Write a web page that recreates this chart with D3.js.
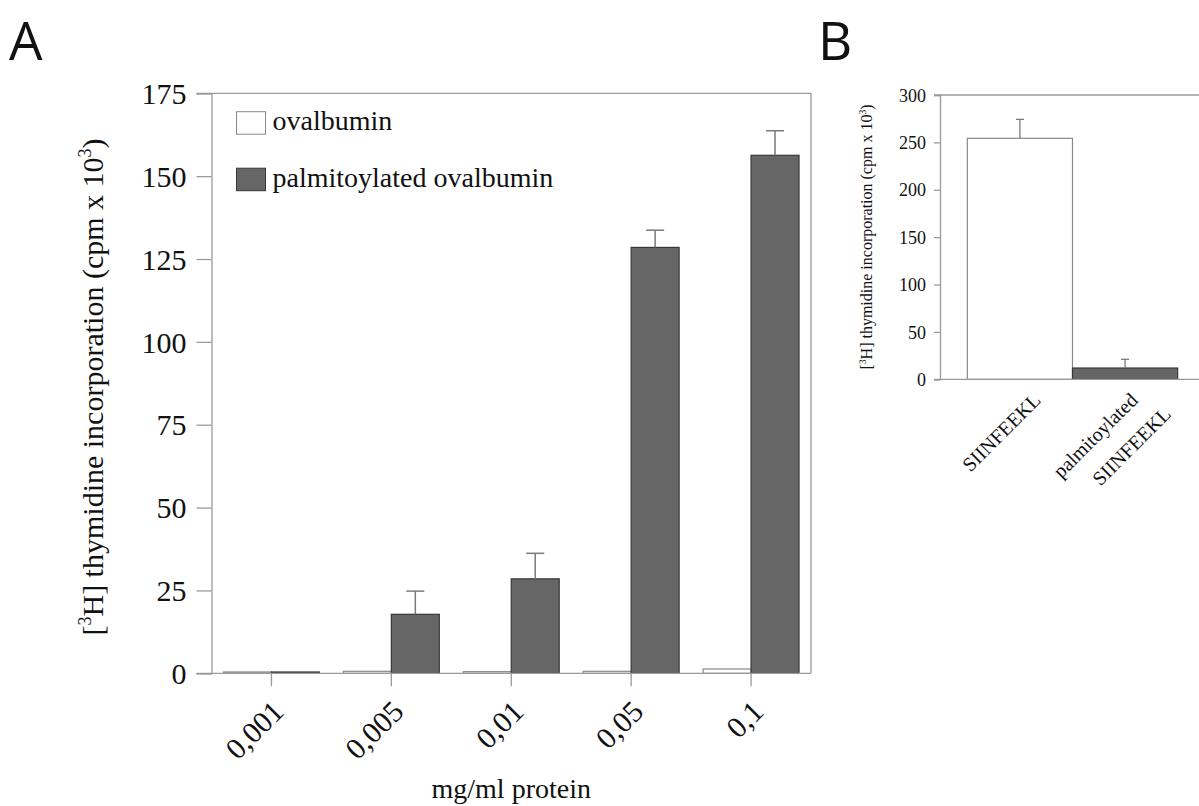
<!DOCTYPE html>
<html>
<head>
<meta charset="utf-8">
<script src="https://cdn.jsdelivr.net/npm/d3@7"></script>
<style>
  html, body { margin: 0; padding: 0; background: #fff; }
  svg { display: block; }
  text { font-family: "Liberation Serif", "Times New Roman", serif; fill: #111; }
</style>
</head>
<body>
<svg id="chart" width="1199" height="806"></svg>
<script>
// ---------- Panel A data ----------
const concentrations = ["0,001", "0,005", "0,01", "0,05", "0,1"];
const seriesNames = ["ovalbumin", "palmitoylated ovalbumin"];
const ovalbumin = [0.4, 0.6, 0.5, 0.6, 1.3];
const ovalbuminErr = [0, 0, 0, 0, 0];
const palmOvalbumin = [0.4, 17.8, 28.5, 128.5, 156.3];
const palmOvalbuminErr = [0, 7.0, 7.7, 5.2, 7.4];
const yTicksA = [0, 25, 50, 75, 100, 125, 150, 175];

// ---------- Panel B data ----------
const peptides = ["SIINFEEKL", "palmitoylated SIINFEEKL"];
const peptideLabelLines = [["SIINFEEKL"], ["palmitoylated", "SIINFEEKL"]];
const peptideValues = [254.3, 11.9];
const peptideErr = [20.0, 9.2];
const yTicksB = [0, 50, 100, 150, 200, 250, 300];

const colors = { white: "#ffffff", gray: "#666666" };
const strokeCol = { white: "#8a8a8a", gray: "#383838" };
const axisCol = "#9a9a9a";
const errCol = "#7a7a7a";

const svg = d3.select("#chart");

// helper: y-title with superscripts
function addYTitle(g, x, y, size) {
  const t = g.append("text")
    .attr("transform", `translate(${x},${y}) rotate(-90)`)
    .attr("text-anchor", "middle")
    .style("font-size", size + "px");
  t.append("tspan").text("[");
  t.append("tspan").text("3").attr("dy", -0.4 * size).style("font-size", (size * 0.6) + "px");
  t.append("tspan").text("H] thymidine incorporation (cpm x 10").attr("dy", 0.4 * size);
  t.append("tspan").text("3").attr("dy", -0.4 * size).style("font-size", (size * 0.6) + "px");
  t.append("tspan").text(")").attr("dy", 0.4 * size);
}

// ================= PANEL A =================
const A = { left: 211.5, right: 811, top: 93.3, bottom: 673.3 };
const xA = d3.scaleBand().domain(concentrations).range([A.left, A.right]).padding(0);
const subA = d3.scaleBand().domain(seriesNames).range([0, xA.bandwidth()])
  .paddingInner(0).paddingOuter(0.25);
const yA = d3.scaleLinear().domain([0, 175]).range([A.bottom, A.top]);

const gA = svg.append("g");

// frame: top and right lines
gA.append("line").attr("x1", A.left - 15).attr("x2", A.right).attr("y1", yA(175)).attr("y2", yA(175))
  .attr("stroke", axisCol).attr("stroke-width", 1.3);
gA.append("line").attr("x1", A.right).attr("x2", A.right).attr("y1", yA(175)).attr("y2", yA(0))
  .attr("stroke", axisCol).attr("stroke-width", 1.3);

// y axis
const yAxisA = d3.axisLeft(yA).tickValues(yTicksA).tickSize(15).tickPadding(10).tickFormat(d3.format("d"));
const gyA = gA.append("g").attr("transform", `translate(${A.left},0)`).call(yAxisA);
gyA.select(".domain").attr("stroke", axisCol).attr("stroke-width", 1.3);
gyA.selectAll(".tick line").attr("stroke", axisCol).attr("stroke-width", 1.3);
gyA.selectAll(".tick text").style("font-size", "30px").style("font-family", "Liberation Serif").attr("fill", "#111").attr("dy", "0.34em");

// bars
const groupsA = concentrations.map((c, i) => ({
  c,
  bars: [
    { s: seriesNames[0], v: ovalbumin[i], e: ovalbuminErr[i], fill: colors.white, stroke: strokeCol.white },
    { s: seriesNames[1], v: palmOvalbumin[i], e: palmOvalbuminErr[i], fill: colors.gray, stroke: strokeCol.gray }
  ]
}));
const gg = gA.selectAll("g.grp").data(groupsA).join("g").attr("class", "grp")
  .attr("transform", d => `translate(${xA(d.c)},0)`);
gg.selectAll("rect").data(d => d.bars).join("rect")
  .attr("x", d => subA(d.s))
  .attr("width", subA.bandwidth())
  .attr("y", d => yA(d.v))
  .attr("height", d => yA(0) - yA(d.v))
  .attr("fill", d => d.fill)
  .attr("stroke", d => d.stroke)
  .attr("stroke-width", 1.2);
// error bars
const errA = gg.selectAll("g.err").data(d => d.bars.filter(b => b.e > 0)).join("g").attr("class", "err");
errA.append("line")
  .attr("x1", d => subA(d.s) + subA.bandwidth() / 2).attr("x2", d => subA(d.s) + subA.bandwidth() / 2)
  .attr("y1", d => yA(d.v)).attr("y2", d => yA(d.v + d.e))
  .attr("stroke", errCol).attr("stroke-width", 1.5);
errA.append("line")
  .attr("x1", d => subA(d.s) + subA.bandwidth() / 2 - 9).attr("x2", d => subA(d.s) + subA.bandwidth() / 2 + 9)
  .attr("y1", d => yA(d.v + d.e)).attr("y2", d => yA(d.v + d.e))
  .attr("stroke", errCol).attr("stroke-width", 1.5);

// x axis
const xAxisA = d3.axisBottom(xA).tickSize(13).tickFormat("");
const gxA = gA.append("g").attr("transform", `translate(0,${A.bottom})`).call(xAxisA);
gxA.select(".domain").remove();
gxA.selectAll(".tick line").attr("stroke", axisCol).attr("stroke-width", 1.3);
gA.append("line").attr("x1", A.left - 15).attr("x2", A.right).attr("y1", A.bottom).attr("y2", A.bottom)
  .attr("stroke", axisCol).attr("stroke-width", 1.3);
gA.selectAll("text.xlab").data(concentrations).join("text").attr("class", "xlab")
  .attr("transform", d => `translate(${xA(d) + xA.bandwidth() / 2 + 14},${A.bottom + 40}) rotate(-45)`)
  .attr("text-anchor", "end")
  .style("font-size", "30px")
  .text(d => d);

// titles
gA.append("text").attr("x", (A.left + A.right) / 2).attr("y", 798).attr("text-anchor", "middle")
  .style("font-size", "28px").text("mg/ml protein");
addYTitle(gA, 103, 387, 30);

// legend
const legA = gA.selectAll("g.leg").data(seriesNames).join("g").attr("class", "leg")
  .attr("transform", (d, i) => `translate(236.5,${111.7 + i * 56.5})`);
legA.append("rect").attr("width", 29).attr("height", 22.5)
  .attr("fill", (d, i) => i === 0 ? colors.white : colors.gray)
  .attr("stroke", (d, i) => i === 0 ? strokeCol.white : strokeCol.gray).attr("stroke-width", 1);
legA.append("text").attr("x", 36).attr("y", 18.5).style("font-size", "28px").text(d => d);

// panel letter
svg.append("text").attr("x", 9).attr("y", 60).style("font-family", "Open Sans, DejaVu Sans, sans-serif")
  .style("font-size", "53px").text("A");

// ================= PANEL B =================
const B = { left: 940, right: 1205, top: 95, bottom: 379.3 };
const xB = d3.scaleBand().domain(peptides).range([B.left, B.right]).paddingInner(0).paddingOuter(0.26);
const yB = d3.scaleLinear().domain([0, 300]).range([B.bottom, B.top]);
const gB = svg.append("g");

gB.append("line").attr("x1", B.left - 6).attr("x2", 1199).attr("y1", yB(300)).attr("y2", yB(300))
  .attr("stroke", axisCol).attr("stroke-width", 1.5);

const yAxisB = d3.axisLeft(yB).tickValues(yTicksB).tickSize(6).tickPadding(8).tickFormat(d3.format("d"));
const gyB = gB.append("g").attr("transform", `translate(${B.left},0)`).call(yAxisB);
gyB.select(".domain").attr("stroke", axisCol).attr("stroke-width", 1.3);
gyB.selectAll(".tick line").attr("stroke", axisCol).attr("stroke-width", 1.3);
gyB.selectAll(".tick text").style("font-size", "18px").style("font-family", "Liberation Serif").attr("fill", "#111").attr("dy", "0.34em");

const barsB = peptides.map((p, i) => ({ p, v: peptideValues[i], e: peptideErr[i], lines: peptideLabelLines[i],
  fill: i === 0 ? colors.white : colors.gray, stroke: i === 0 ? strokeCol.white : strokeCol.gray }));
gB.selectAll("rect.b").data(barsB).join("rect").attr("class", "b")
  .attr("x", d => xB(d.p)).attr("width", xB.bandwidth())
  .attr("y", d => yB(d.v)).attr("height", d => yB(0) - yB(d.v))
  .attr("fill", d => d.fill).attr("stroke", d => d.stroke).attr("stroke-width", 1.2);
const errB = gB.selectAll("g.errb").data(barsB).join("g").attr("class", "errb");
errB.append("line")
  .attr("x1", d => xB(d.p) + xB.bandwidth() / 2).attr("x2", d => xB(d.p) + xB.bandwidth() / 2)
  .attr("y1", d => yB(d.v)).attr("y2", d => yB(d.v + d.e))
  .attr("stroke", errCol).attr("stroke-width", 1.3);
errB.append("line")
  .attr("x1", d => xB(d.p) + xB.bandwidth() / 2 - 4).attr("x2", d => xB(d.p) + xB.bandwidth() / 2 + 4)
  .attr("y1", d => yB(d.v + d.e)).attr("y2", d => yB(d.v + d.e))
  .attr("stroke", errCol).attr("stroke-width", 1.3);

gB.append("line").attr("x1", B.left - 6).attr("x2", 1199).attr("y1", B.bottom).attr("y2", B.bottom)
  .attr("stroke", axisCol).attr("stroke-width", 1.3);

// x labels (rotated, possibly two lines)
barsB.forEach(d => {
  const cx = xB(d.p) + xB.bandwidth() / 2;
  d.lines.forEach((ln, j) => {
    const n = d.lines.length;
    const ox = n === 1 ? 22 : (j === 0 ? 14 : 47);
    const oy = n === 1 ? 22 : (j === 0 ? 22 : 36);
    gB.append("text")
      .attr("transform", `translate(${cx + ox},${B.bottom + oy}) rotate(-45)`)
      .attr("text-anchor", "end").style("font-size", "20px").text(ln);
  });
});

addYTitle(gB, 872, 237, 16);

svg.append("text").attr("x", 818).attr("y", 60).style("font-family", "Open Sans, DejaVu Sans, sans-serif")
  .style("font-size", "53px").text("B");
</script>
</body>
</html>
